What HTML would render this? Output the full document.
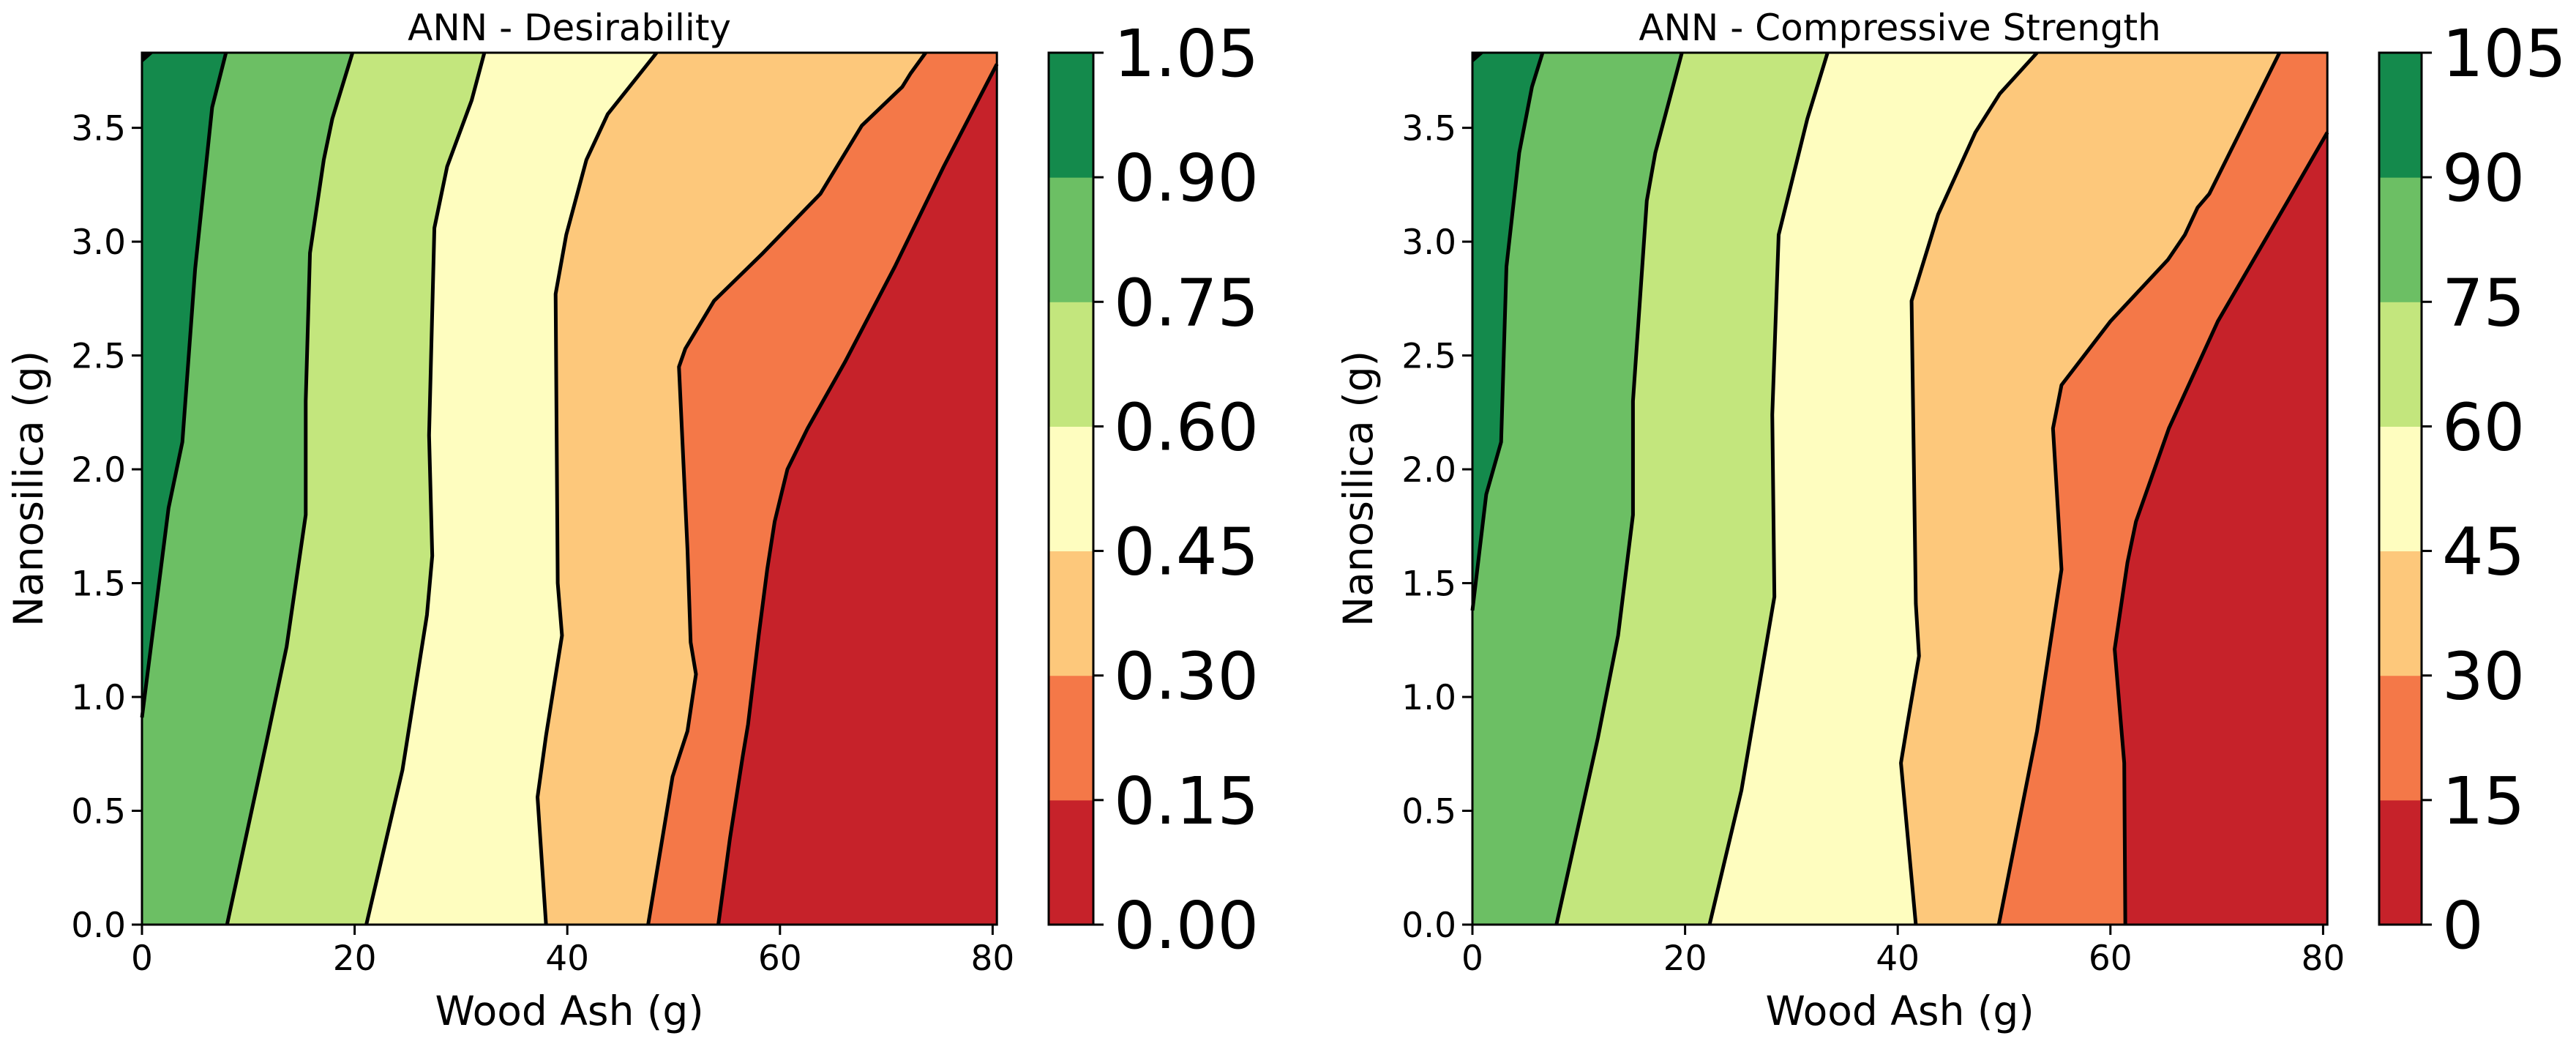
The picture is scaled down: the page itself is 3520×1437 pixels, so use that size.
<!DOCTYPE html>
<html><head><meta charset="utf-8"><style>
html,body{margin:0;padding:0;background:#fff;}
svg{display:block;font-family:"DejaVu Sans","Liberation Sans",sans-serif;}
</style></head><body>
<svg id="fig" width="3520" height="1437" viewBox="0 0 3520 1437" xmlns="http://www.w3.org/2000/svg"></svg>
<script>
// ---- data ----
const levelColors = ["#c6222a","#f47848","#fdc87b","#fefdbf","#c3e67d","#6cbf64","#148a4c"];
const deslLevels = ["0.00","0.15","0.30","0.45","0.60","0.75","0.90","1.05"];
const csLevels = ["0","15","30","45","60","75","90","105"];
const xTicks = [0,20,40,60,80];
const yTicks = [0,0.5,1.0,1.5,2.0,2.5,3.0,3.5];
// Desirability contour lines [woodAsh, nanosilica]
const desB015 = [[54.2,0],[55.3,0.38],[56.5,0.74],[57.0,0.88],[58.0,1.27],[58.8,1.56],[59.5,1.77],[60.7,2.0],[62.6,2.18],[66.1,2.47],[70.8,2.89],[75.4,3.33],[80.4,3.78]];
const desB030 = [[47.6,0],[49.9,0.65],[51.3,0.85],[52.1,1.10],[51.6,1.24],[51.3,1.65],[50.5,2.45],[51.1,2.53],[53.8,2.74],[58.4,2.95],[63.8,3.21],[67.7,3.51],[71.5,3.68],[72.3,3.74],[73.7,3.83]];
const desB045 = [[38.0,0],[37.2,0.56],[38.0,0.83],[39.5,1.27],[39.1,1.50],[38.9,2.77],[39.9,3.03],[41.8,3.36],[43.8,3.56],[48.4,3.83]];
const desB060 = [[21.1,0],[24.5,0.68],[26.8,1.36],[27.3,1.62],[27.0,2.15],[27.5,3.06],[28.7,3.33],[31.0,3.62],[32.2,3.83]];
const desB075 = [[8.0,0],[11.7,0.80],[13.6,1.22],[15.4,1.80],[15.4,2.30],[15.8,2.95],[17.1,3.36],[17.9,3.54],[19.8,3.83]];
const desB090 = [[0,0.91],[2.5,1.83],[3.8,2.12],[5.0,2.88],[6.6,3.59],[7.9,3.83]];
// Compressive strength contour lines
const csB15 = [[61.4,0],[61.3,0.71],[60.4,1.21],[61.6,1.59],[62.4,1.77],[65.5,2.18],[70.1,2.65],[76.7,3.18],[80.4,3.48]];
const csB30 = [[49.5,0],[53.1,0.85],[55.4,1.56],[54.6,2.18],[55.4,2.37],[60.0,2.65],[65.4,2.92],[67.0,3.03],[68.2,3.15],[69.3,3.21],[70.9,3.36],[75.9,3.83]];
const csB45 = [[41.7,0],[40.3,0.71],[40.9,0.88],[42.0,1.18],[41.7,1.41],[41.3,2.74],[43.8,3.12],[47.3,3.48],[49.6,3.65],[53.1,3.83]];
const csB60 = [[22.3,0],[25.3,0.59],[28.4,1.44],[28.2,2.24],[28.8,3.03],[31.5,3.54],[33.4,3.83]];
const csB75 = [[7.9,0],[11.8,0.82],[13.7,1.27],[15.1,1.80],[15.1,2.30],[16.4,3.18],[17.2,3.39],[19.7,3.83]];
const csB90 = [[0,1.38],[1.3,1.89],[2.7,2.12],[3.2,2.89],[4.4,3.39],[5.6,3.68],[6.6,3.83]];

const XMAX=80.4, YMAX=3.83;
const NS="http://www.w3.org/2000/svg";
const svg=document.getElementById('fig');
function mk(tag,attrs,parent){const e=document.createElementNS(NS,tag);for(const k in attrs)e.setAttribute(k,attrs[k]);(parent||svg).appendChild(e);return e;}

function panel(cfg){
  const g=mk('g',{});
  
  
  const L=cfg.left, R=cfg.left+(XMAX)*14.53, T=72, B=1263;
  const sx=v=>L+v*14.53, sy=v=>B-(v/YMAX)*(B-T);
  const bg=mk('rect',{x:L,y:T,width:R-L,height:B-T,fill:levelColors[0]},g);
  
  
  cfg.bounds.forEach((line,i)=>{
    const pts=line.map(p=>[sx(Math.min(p[0],XMAX)),sy(Math.min(p[1],YMAX))]);
    const poly=pts.slice();
    const last=line[line.length-1];
    if(last[0]>=XMAX-0.5 && last[1]<YMAX-0.01) poly.push([sx(XMAX),sy(YMAX)]);
    poly.push([sx(0),sy(YMAX)]);
    poly.push([sx(0),sy(line[0][1])]);
    const pg=mk('polygon',{points:poly.map(p=>p.join(',')).join(' '),fill:levelColors[i+1]},g);
    
    
  });
  cfg.bounds.forEach((line,i)=>{
    const pl=mk('polyline',{points:line.map(p=>sx(Math.min(p[0],XMAX))+','+sy(Math.min(p[1],YMAX))).join(' '),fill:'none',stroke:'#000','stroke-width':5,'stroke-linejoin':'round'},g);
    
    
  });
  const blob=mk('polygon',{points:`${L},${T} ${L+16},${T} ${L},${T+14}`,fill:'#000'},g);
  
  
  const fr=mk('rect',{x:L,y:T,width:R-L,height:B-T,fill:'none',stroke:'#000','stroke-width':3},g);
  
  
  xTicks.forEach(v=>{
    mk('line',{x1:sx(v),x2:sx(v),y1:B,y2:B+14,stroke:'#000','stroke-width':3},g);
    const t=mk('text',{x:sx(v),y:B+62,'font-size':47,'text-anchor':'middle'},g);
    t.textContent=v;
    
    
  });
  yTicks.forEach(v=>{
    mk('line',{x1:L-14,x2:L,y1:sy(v),y2:sy(v),stroke:'#000','stroke-width':3},g);
    const t=mk('text',{x:L-22,y:sy(v)+17,'font-size':47,'text-anchor':'end'},g);
    t.textContent=v.toFixed(1);
    
    
  });
  const xl=mk('text',{x:(L+R)/2,y:1400,'font-size':55,'text-anchor':'middle'},g);
  xl.textContent='Wood Ash (g)';
  
  
  const yl=mk('text',{x:0,y:0,'font-size':55,'text-anchor':'middle',transform:`translate(${cfg.ylabX},${(T+B)/2}) rotate(-90)`},g);
  yl.textContent='Nanosilica (g)';
  
  
  const tt=mk('text',{x:(L+R)/2,y:55,'font-size':50,'text-anchor':'middle'},g);
  tt.textContent=cfg.title;
  
  
  const cb=mk('g',{},g);
  
  
  const cl=cfg.cbLeft, cw=cfg.cbWidth, bh=(B-T)/7;
  levelColors.forEach((c,i)=>{
    const r=mk('rect',{x:cl,y:B-(i+1)*bh,width:cw,height:bh+0.5,fill:c},cb);
    
    
  });
  mk('rect',{x:cl,y:T,width:cw,height:B-T,fill:'none',stroke:'#000','stroke-width':3},cb);
  cfg.levels.forEach((lab,i)=>{
    const y=B-i*bh;
    mk('line',{x1:cl+cw,x2:cl+cw+14,y1:y,y2:y,stroke:'#000','stroke-width':3},cb);
    const t=mk('text',{x:cl+cw+28,y:y+32,'font-size':89},cb);
    t.textContent=lab;
    
    
  });
}
panel({name:'desirability-panel',left:194,title:'ANN - Desirability',ylabX:58,cbLeft:1433,cbWidth:61,levels:deslLevels,
  bounds:[desB015,desB030,desB045,desB060,desB075,desB090]});
panel({name:'compressive-strength-panel',left:2012,title:'ANN - Compressive Strength',ylabX:1875,cbLeft:3251,cbWidth:58,levels:csLevels,
  bounds:[csB15,csB30,csB45,csB60,csB75,csB90]});
</script>
</body></html>
